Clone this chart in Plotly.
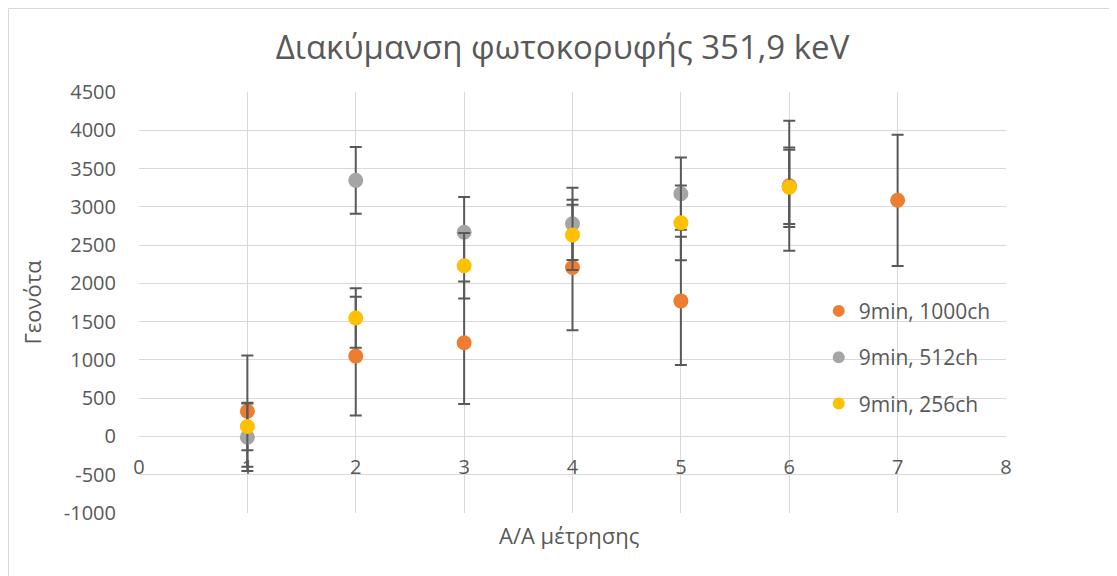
import plotly.graph_objects as go

# ---- data ----
x_1000 = [1, 2, 3, 4, 5, 6, 7]
y_1000 = [330, 1050, 1224, 2208, 1771, 3275, 3085]
e_1000 = [726, 775, 800, 820, 839, 848, 858]

x_512 = [1, 2, 3, 4, 5, 6]
y_512 = [-10, 3346, 2667, 2778, 3171, 3260]
e_512 = [440, 437, 460, 472, 472, 485]

x_256 = [1, 2, 3, 4, 5, 6]
y_256 = [131, 1548, 2230, 2633, 2791, 3255]
e_256 = [310, 388, 429, 460, 489, 520]

names = ["9min, 1000ch", "9min, 512ch", "9min, 256ch"]
colors = ["#ED7D31", "#A5A5A5", "#FFC000"]

y_tickvals = [-1000, -500, 0, 500, 1000, 1500, 2000, 2500, 3000, 3500, 4000, 4500]
y_ticktext = ["-1000", "-500", "0", "500", "1000", "1500", "2000", "2500",
              "3000", "3500", "4000", "4500"]
x_tickvals = [0, 1, 2, 3, 4, 5, 6, 7, 8]
x_ticktext = ["0", "1", "2", "3", "4", "5", "6", "7", "8"]

title_text = "Διακύμανση φωτοκορυφής 351,9 keV"
x_title = "A/A μέτρησης"
y_title = "Γεονότα"

FONT = "Open Sans"
GRAY = "#595959"

fig = go.Figure()
series = [(x_1000, y_1000, e_1000), (x_512, y_512, e_512), (x_256, y_256, e_256)]
for i, ((xs, ys, es), nm, col) in enumerate(zip(series, names, colors)):
    fig.add_trace(go.Scatter(
        x=xs, y=ys, mode="markers", name=nm, legendgroup=str(i),
        marker=dict(color=col, size=15, line=dict(width=0)),
        error_y=dict(type="data", array=es, visible=True, color=GRAY,
                     thickness=2, width=6),
    ))

fig.update_layout(
    width=1109, height=568,
    margin=dict(l=131, r=111, t=84, b=63, autoexpand=False),
    paper_bgcolor="white", plot_bgcolor="white",
    font=dict(family=FONT, color=GRAY, size=20),
    title=dict(text=title_text, x=0.5, xanchor="center", y=1 - 39 / 568,
               yanchor="middle",
               font=dict(family=FONT, size=33, color=GRAY)),
    showlegend=True,
    legend=dict(x=0.784, y=0.37, xanchor="left", yanchor="middle",
                font=dict(family=FONT, size=21, color=GRAY),
                tracegroupgap=16, itemsizing="constant",
                bgcolor="rgba(0,0,0,0)"),
    xaxis=dict(range=[0, 8], tickmode="array", tickvals=x_tickvals,
               ticktext=x_ticktext, showgrid=True, gridcolor="#D9D9D9",
               gridwidth=1, zeroline=False, showline=False, ticks="",
               anchor="free", position=1000 / 5500, automargin=False,
               ticklabelstandoff=17,
               tickfont=dict(family=FONT, size=20, color=GRAY)),
    yaxis=dict(range=[-1000, 4500], tickmode="array", tickvals=y_tickvals,
               ticktext=y_ticktext, showgrid=True,
               gridcolor="#D9D9D9", gridwidth=1, zeroline=False,
               showline=False, ticks="", automargin=False,
               ticklabelstandoff=22,
               tickfont=dict(family=FONT, size=20, color=GRAY),
               title=dict(text=y_title, standoff=16,
                          font=dict(family=FONT, size=22, color=GRAY))),
    annotations=[dict(text=x_title, xref="paper", yref="paper", x=0.496,
                      y=-22 / 421, xanchor="center", yanchor="middle",
                      showarrow=False,
                      font=dict(family=FONT, size=22, color=GRAY))],
    shapes=[dict(type="rect", xref="paper", yref="paper",
                 x0=-130.5 / 867, x1=1.3, y0=-0.4, y1=1 + 83.5 / 421,
                 line=dict(color="#D9D9D9", width=1), fillcolor="rgba(0,0,0,0)",
                 layer="below")],
)

fig.write_html("out.html")
